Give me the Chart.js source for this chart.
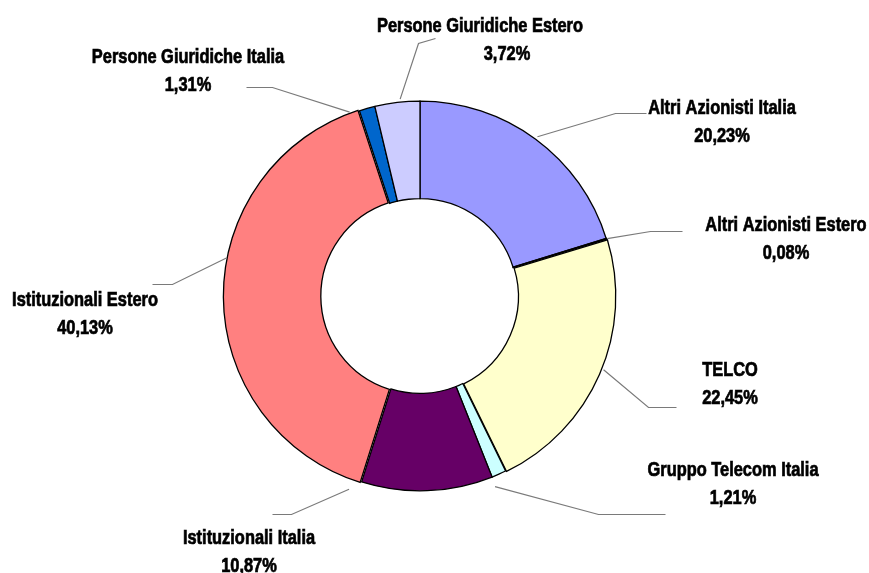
<!DOCTYPE html>
<html>
<head>
<meta charset="utf-8">
<script src="https://cdn.jsdelivr.net/npm/chart.js@4.4.0/dist/chart.umd.min.js"></script>
<style>
  html, body { margin: 0; padding: 0; background: #fff; }
  #wrap { width: 869px; height: 573px; }
</style>
</head>
<body>
<div id="wrap"><canvas id="myChart"></canvas></div>
<script>
let categories = ['Altri Azionisti Italia', 'Altri Azionisti Estero', 'TELCO', 'Gruppo Telecom Italia',
  'Istituzionali Italia', 'Istituzionali Estero', 'Persone Giuridiche Italia', 'Persone Giuridiche Estero'];
let shares = [20.23, 0.08, 22.45, 1.21, 10.87, 40.13, 1.31, 3.72]; // percent of share capital
let sliceColors = ['#9999FF', '#993366', '#FFFFCC', '#CCFFFF', '#660066', '#FF8080', '#0066CC', '#CCCCFF'];
let sliceOffsets = [0, 0, 4, 0, 0, 5, 0, 0];

// label placement: x = text centre, y = baseline of the name line,
// t = where along the slice the leader leaves it, gap = distance from the rim
let labelSpots = [
  { x: 722, y: 114, t: 0.5, gap: 3, elbow: [615, 113], end: [646, 113] },
  { x: 786, y: 231, t: 0.5, gap: 1, elbow: [650, 231], end: [682, 231] },
  { x: 730, y: 376, t: 0.48, gap: 3, elbow: [648, 407], end: [676, 407] },
  { x: 733, y: 476, t: 1.05, gap: 10, elbow: [598, 514], end: [665, 514] },
  { x: 249, y: 544, t: 1.07, gap: 11, elbow: [291, 514], end: [272, 514] },
  { x: 85, y: 306, t: 0.58, gap: 2, elbow: [172, 284], end: [152, 284] },
  { x: 188, y: 63, t: -0.6, gap: 2, elbow: [272, 87], end: [246, 87] },
  { x: 480, y: 32, t: 0.57, gap: 3, elbow: [418, 43], end: [435, 38], dx2: 27 }
];

// no narrow face installed, so squeeze the regular bold one
const labelFont = 'bold 20px "Liberation Sans", Arial, sans-serif';
const squeeze = 0.82;

function narrowText(ctx, text, x, y) {
  ctx.save();
  ctx.translate(x, y);
  ctx.scale(squeeze, 1);
  ctx.lineWidth = 0.7;
  ctx.strokeStyle = '#000';
  ctx.strokeText(text, 0, 0);
  ctx.fillText(text, 0, 0);
  ctx.restore();
}

// names, percentages and grey leader lines around the ring
const sliceLabels = {
  id: 'sliceLabels',
  afterDatasetsDraw(chart) {
    const ctx = chart.ctx;
    const arcs = chart.getDatasetMeta(0).data;
    ctx.save();
    arcs.forEach((arc, i) => {
      const spot = labelSpots[i];
      const p = arc.getProps(['x', 'y', 'startAngle', 'endAngle', 'outerRadius'], true);
      const a = p.startAngle + spot.t * (p.endAngle - p.startAngle);
      const r = p.outerRadius + spot.gap;
      ctx.beginPath();
      ctx.moveTo(p.x + Math.cos(a) * r, p.y + Math.sin(a) * r);
      ctx.lineTo(spot.elbow[0] + 0.5, spot.elbow[1] + 0.5);
      ctx.lineTo(spot.end[0] + 0.5, spot.end[1] + 0.5);
      ctx.strokeStyle = '#7a7a7a';
      ctx.lineWidth = 1.2;
      ctx.stroke();

      ctx.fillStyle = '#000';
      ctx.font = labelFont;
      ctx.textAlign = 'center';
      ctx.textBaseline = 'alphabetic';
      narrowText(ctx, categories[i], spot.x, spot.y);
      const value = shares[i].toFixed(2).replace('.', ',') + '%';
      narrowText(ctx, value, spot.x + (spot.dx2 || 0), spot.y + 28);
    });
    ctx.restore();
  }
};

const ring = document.getElementById('myChart').getContext('2d');

const myChart = new Chart(ring, {
  type: 'doughnut',
  data: {
    labels: categories,
    datasets: [{
      data: shares,
      backgroundColor: sliceColors,
      borderColor: '#000000',
      borderWidth: 1.3,
      borderJoinStyle: 'miter',
      offset: sliceOffsets,
      hoverOffset: 0
    }]
  },
  options: {
    responsive: true,
    maintainAspectRatio: false,
    animation: false,
    cutout: '50%',
    layout: {
      padding: { left: 222, right: 251, top: 98, bottom: 79 }
    },
    plugins: {
      legend: { display: false },
      tooltip: { enabled: false }
    }
  },
  plugins: [sliceLabels]
});
</script>
</body>
</html>
